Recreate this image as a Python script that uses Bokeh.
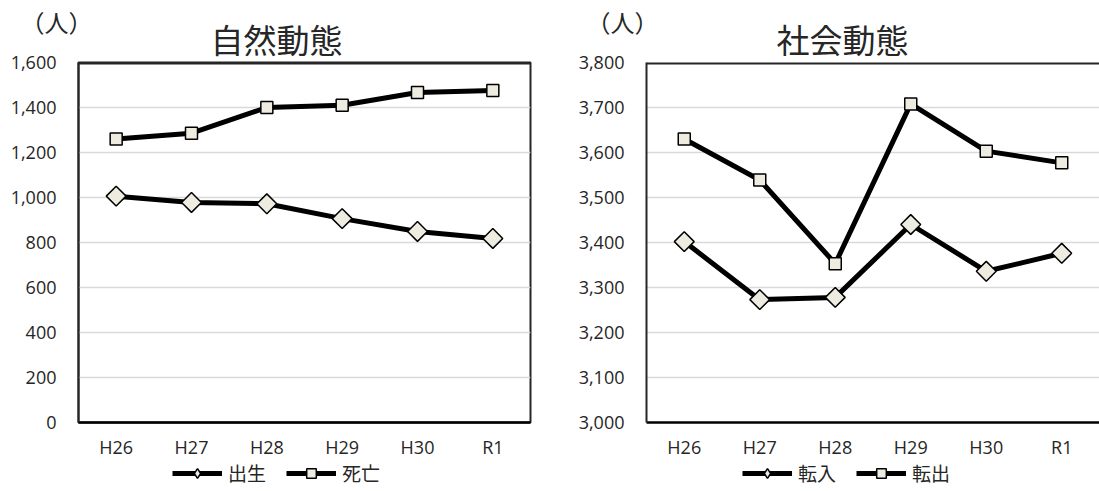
import numpy as np
from bokeh.plotting import figure
from bokeh.layouts import row, column
from bokeh.models import (Range1d, FixedTicker, NumeralTickFormatter, Legend, LegendItem,
                          Label, Span)
from bokeh.embed import file_html
from bokeh.resources import INLINE

years = ["H26", "H27", "H28", "H29", "H30", "R1"]

# 自然動態
births = [1006, 978, 972, 906, 849, 818]      # 出生
deaths = [1260, 1286, 1400, 1410, 1467, 1476]  # 死亡

# 社会動態
moves_in = [3402, 3273, 3278, 3440, 3336, 3376]   # 転入
moves_out = [3630, 3539, 3353, 3708, 3603, 3577]  # 転出

left_ticks = [0, 200, 400, 600, 800, 1000, 1200, 1400, 1600]
right_ticks = [3000, 3100, 3200, 3300, 3400, 3500, 3600, 3700, 3800]

titles = ["自然動態", "社会動態"]
legend_names = [["出生", "死亡"], ["転入", "転出"]]
unit_text = "（人）"

FONT_NUM = "Open Sans"
FONT_JP = "Noto Sans CJK JP"
TXT = "#262626"
FILL = "#eeece1"

MARKERS = [dict(marker="square", angle=np.pi / 4, size=14),
           dict(marker="square", angle=0.0, size=12)]
LEGEND_MARKERS = ["diamond", "square"]


def blank_fig(width, height):
    f = figure(width=width, height=height, x_range=Range1d(0, 1), y_range=Range1d(0, 1),
               output_backend="svg", toolbar_location=None,
               min_border=0, min_border_left=0, min_border_right=0,
               min_border_top=0, min_border_bottom=0)
    f.axis.visible = False
    f.grid.visible = False
    f.outline_line_color = None
    f.background_fill_color = "white"
    f.border_fill_color = "white"
    return f


def make_chart(series, ticks, width, b_left, b_right, show_right_border):
    p = figure(x_range=years, y_range=Range1d(ticks[0], ticks[-1]),
               width=width, height=413, output_backend="svg", toolbar_location=None,
               min_border_left=b_left, min_border_right=b_right,
               min_border_top=14, min_border_bottom=38, margin=(-14, 0, 0, 0))
    p.background_fill_color = "white"
    p.border_fill_alpha = 0
    p.outline_line_color = None
    p.xgrid.grid_line_color = None
    p.ygrid.grid_line_color = "#d9d9d9"
    p.ygrid.grid_line_width = 1.5
    p.yaxis.ticker = FixedTicker(ticks=ticks)
    p.yaxis.formatter = NumeralTickFormatter(format="0,0")
    for ax in (p.xaxis[0], p.yaxis[0]):
        ax.major_tick_line_color = None
        ax.minor_tick_line_color = None
        ax.major_label_text_font = FONT_NUM
        ax.major_label_text_font_size = "18px"
        ax.major_label_text_color = TXT
    p.yaxis.axis_line_color = "#262626"
    p.yaxis.axis_line_width = 2
    p.yaxis.major_label_standoff = 16
    p.xaxis.axis_line_color = "black"
    p.xaxis.axis_line_width = 2.5
    p.xaxis.major_label_standoff = 6

    p.add_layout(Span(location=ticks[-1], dimension="width", line_color="#262626", line_width=4))
    if show_right_border:
        p.outline_line_color = "#262626"
        p.outline_line_width = 2

    for vals, mk in zip(series, MARKERS):
        p.line(years, vals, line_color="black", line_width=5)
        p.scatter(years, vals, fill_color=FILL, line_color="black", line_width=1.5, **mk)
    return p


p1 = make_chart([births, deaths], left_ticks, 550, 78, 20, True)
p2 = make_chart([moves_in, moves_out], right_ticks, 549, 96, 0, False)

# title strip (the chart row below overlaps its last 14 px with a transparent border)
top = blank_fig(1099, 62)
for tx, ux, t in zip([276, 842], [56, 622], titles):
    top.add_layout(Label(x=ux, y=41, x_units="screen", y_units="screen", text=unit_text,
                         text_font=FONT_JP, text_font_size="24px", text_color=TXT,
                         text_align="center", text_baseline="middle"))
    top.add_layout(Label(x=tx, y=24, x_units="screen", y_units="screen", text=t,
                         text_font=FONT_JP, text_font_size="33px", text_color=TXT,
                         text_align="center", text_baseline="middle"))

# legend strip (legend-only renderers carry no visible data)
bot = blank_fig(1099, 30)
for lx, names in zip([172, 742], legend_names):
    items = []
    for name, mk in zip(names, LEGEND_MARKERS):
        lr = bot.line(x=[np.nan], y=[np.nan], line_color="black", line_width=5)
        sr = bot.scatter(x=[np.nan], y=[np.nan], marker=mk, fill_color=FILL,
                         line_color="black", line_width=1.5, size=12)
        items.append(LegendItem(label=name, renderers=[lr, sr]))
    leg = Legend(items=items, orientation="horizontal", location=(lx, 5),
                 border_line_color=None, background_fill_alpha=0, padding=0, margin=0,
                 spacing=20, label_standoff=6, glyph_width=50, glyph_height=24,
                 label_text_font=FONT_JP, label_text_font_size="19px",
                 label_text_color=TXT, label_text_baseline="middle")
    bot.add_layout(leg, "center")

layout = column(top, row(p1, p2, spacing=0), bot, spacing=0)
open("out.html", "w").write(file_html(layout, INLINE))
